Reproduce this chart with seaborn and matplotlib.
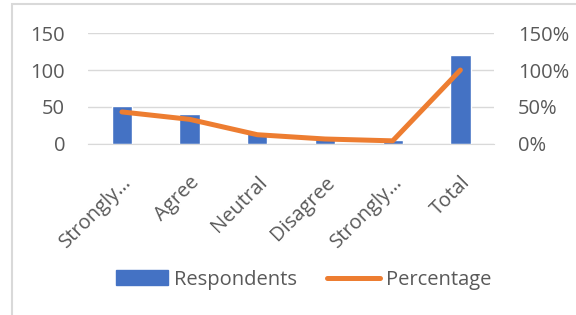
import pandas as pd
import seaborn as sns
import matplotlib.pyplot as plt
import matplotlib.transforms as mtransforms
from matplotlib.ticker import PercentFormatter
from matplotlib.patches import Patch, Rectangle
from matplotlib.lines import Line2D

categories = ["Strongly…", "Agree", "Neutral", "Disagree", "Strongly…", "Total"]
respondents = [52, 40, 15, 8, 5, 120]
percentage = [43.3, 33.3, 12.5, 6.7, 4.2, 100.0]

sns.set_style("white")
plt.rcParams['font.family'] = ['Open Sans', 'DejaVu Sans']

df = pd.DataFrame({"pos": range(len(categories)), "Respondents": respondents,
                   "Percentage": percentage})

bar_color = '#4472C4'
line_color = '#ED7D31'
text_color = '#595959'
fs = 14.5

fig = plt.figure(figsize=(5.76, 3.15), dpi=100)
# chart frame (left and top edges visible)
fig.patches.append(Rectangle((12 / 576, -0.05), 1.2, 1 - 4 / 315 + 0.05,
                             transform=fig.transFigure, fill=False,
                             edgecolor='#d9d9d9', linewidth=1.5))

ax = fig.add_axes([0.153, 0.543, 0.705, 0.352])
sns.barplot(data=df, x="pos", y="Respondents", color=bar_color, width=0.3,
            ax=ax, saturation=1, native_scale=True)
ax.set_xlim(-0.5, 5.5)
ax.set_ylim(0, 150)
ax.set_yticks([0, 50, 100, 150])
ax.yaxis.grid(True, color='#d9d9d9', linewidth=1)
ax.set_axisbelow(True)
ax.set_xlabel("")
ax.set_ylabel("")
ax.set_xticks(range(len(categories)))
ax.set_xticklabels(categories, rotation=45, ha='right', va='top',
                   rotation_mode='anchor')
offset = mtransforms.ScaledTranslation(5 / 100, 0, fig.dpi_scale_trans)
for lab in ax.get_xticklabels():
    lab.set_transform(lab.get_transform() + offset)
for s in ax.spines.values():
    s.set_visible(False)
ax.spines['bottom'].set_visible(True)
ax.spines['bottom'].set_color('#d9d9d9')
ax.tick_params(axis='both', length=0, labelsize=fs, colors=text_color)
ax.tick_params(axis='y', pad=16.5)
ax.tick_params(axis='x', pad=20.5)

ax2 = ax.twinx()
sns.lineplot(data=df, x="pos", y="Percentage", color=line_color, linewidth=3.6,
             ax=ax2, solid_capstyle='round')
ax2.set_ylim(0, 150)
ax2.set_yticks([0, 50, 100, 150])
ax2.yaxis.set_major_formatter(PercentFormatter(decimals=0))
ax2.set_ylabel("")
for s in ax2.spines.values():
    s.set_visible(False)
ax2.tick_params(axis='y', length=0, labelsize=fs, colors=text_color, pad=17)
ax2.set_xlim(-0.5, 5.5)

handles = [Patch(color=bar_color, label="Respondents"),
           Line2D([0], [0], color=line_color, linewidth=3.6, solid_capstyle='round',
                  label="Percentage")]
fig.legend(handles=handles, loc='center', bbox_to_anchor=(0.527, 0.112), ncol=2,
           frameon=False, fontsize=fs, labelcolor=text_color, handlelength=2.6,
           handleheight=0.75, columnspacing=1.5, handletextpad=0.3)

fig.savefig("out.png", dpi=100)
